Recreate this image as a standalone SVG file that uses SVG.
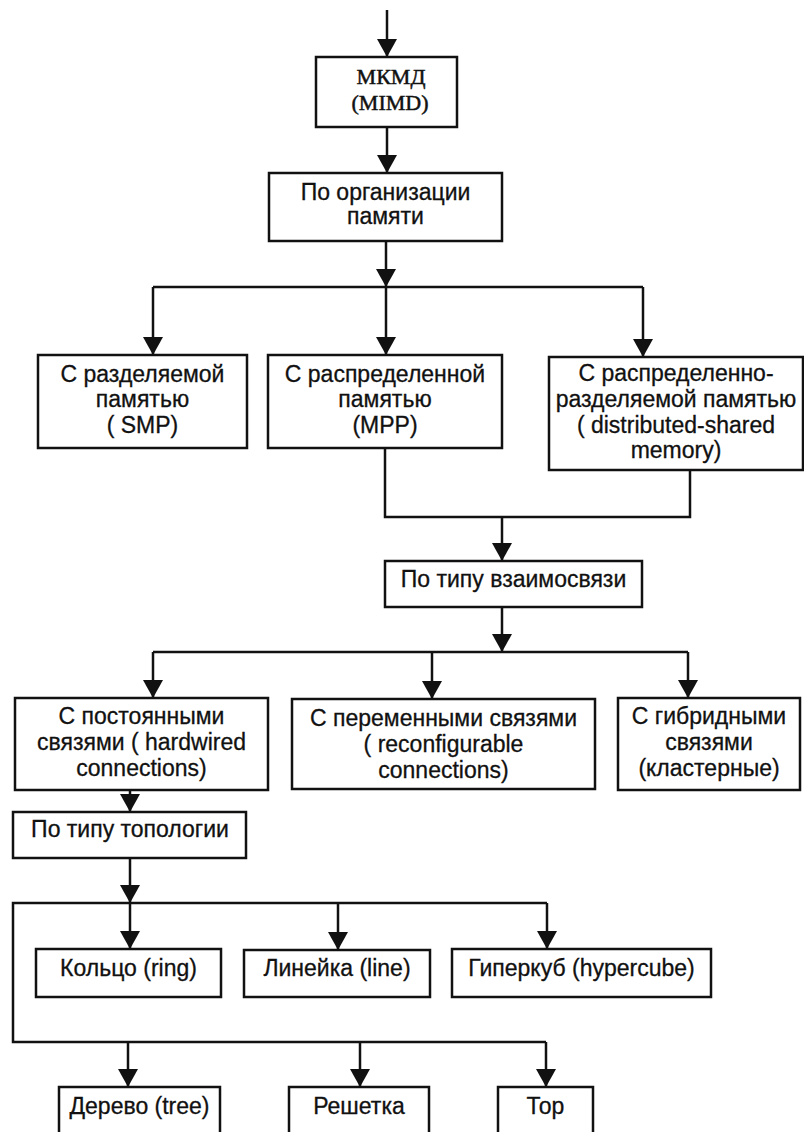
<svg xmlns="http://www.w3.org/2000/svg" width="804" height="1132" viewBox="0 0 804 1132">
<style>
.box{fill:#fff;stroke:#111;stroke-width:2.5}
.t{font-family:"Liberation Sans",Arial,sans-serif;font-size:23px;fill:#111;stroke:#111;stroke-width:0.3;text-anchor:middle}
.s{font-family:"Liberation Serif","Times New Roman",serif;font-size:22px;fill:#111;stroke:#111;stroke-width:0.5;text-anchor:middle}
.c{fill:none;stroke:#111;stroke-width:2.5}
.a{fill:none;stroke:#111;stroke-width:2.5;marker-end:url(#ah)}
</style>
<defs>
<marker id="ah" viewBox="0 0 18 20" markerWidth="18" markerHeight="20" refX="18" refY="10" orient="auto" markerUnits="userSpaceOnUse">
<path d="M0,0 L18,10 L0,20 z" fill="#111"/>
</marker>
</defs>
<rect width="804" height="1132" fill="#fff"/>
<g id="connectors">
<path class="a" d="M387,10 V57"/>
<path class="a" d="M387,127 V173"/>
<path class="a" d="M386,241 V287"/>
<path class="c" d="M153,287 H643"/>
<path class="a" d="M153,287 V355"/>
<path class="a" d="M386,287 V355"/>
<path class="a" d="M643,287 V357"/>
<path class="c" d="M385,448 V517 H690 V470"/>
<path class="a" d="M502,517 V561"/>
<path class="a" d="M502,607 V652"/>
<path class="c" d="M153,652 H688"/>
<path class="a" d="M153,652 V698"/>
<path class="a" d="M432,652 V699"/>
<path class="a" d="M688,652 V698"/>
<path class="a" d="M130,790 V812"/>
<path class="a" d="M130,858 V903"/>
<path class="c" d="M547,903 H13 V1042 H546"/>
<path class="a" d="M130,903 V949"/>
<path class="a" d="M338,903 V950"/>
<path class="a" d="M547,903 V949"/>
<path class="a" d="M128,1042 V1087"/>
<path class="a" d="M360,1042 V1087"/>
<path class="a" d="M546,1042 V1087"/>
</g>
<g id="mimd"><rect class="box" x="316" y="57" width="141" height="70"/><text class="s" x="391" y="84">МКМД</text><text class="s" x="390" y="110">(MIMD)</text></g>
<g id="memory-org"><rect class="box" x="269" y="173" width="233" height="68"/><text class="t" x="385.5" y="200">По организации</text><text class="t" x="385.5" y="224">памяти</text></g>
<g id="smp"><rect class="box" x="38" y="355" width="209" height="93"/><text class="t" x="142.5" y="382">С разделяемой</text><text class="t" x="142.5" y="407">памятью</text><text class="t" x="142.5" y="433">( SMP)</text></g>
<g id="mpp"><rect class="box" x="268" y="355" width="234" height="93"/><text class="t" x="385" y="382">С распределенной</text><text class="t" x="385" y="407">памятью</text><text class="t" x="385" y="433">(MPP)</text></g>
<g id="dsm"><rect class="box" x="549" y="357" width="254" height="113"/><text class="t" x="676" y="381">С распределенно-</text><text class="t" x="676" y="407">разделяемой памятью</text><text class="t" x="676" y="433">( distributed-shared</text><text class="t" x="676" y="458">memory)</text></g>
<g id="interconnect"><rect class="box" x="385" y="561" width="257" height="46"/><text class="t" x="513.5" y="587">По типу взаимосвязи</text></g>
<g id="hardwired"><rect class="box" x="15" y="698" width="253" height="92"/><text class="t" x="141.5" y="724">С постоянными</text><text class="t" x="141.5" y="750">связями ( hardwired</text><text class="t" x="141.5" y="776">connections)</text></g>
<g id="reconfigurable"><rect class="box" x="292" y="699" width="303" height="90"/><text class="t" x="443.5" y="726">С переменными связями</text><text class="t" x="443.5" y="752">( reconfigurable</text><text class="t" x="443.5" y="778">connections)</text></g>
<g id="hybrid"><rect class="box" x="618" y="698" width="182" height="92"/><text class="t" x="709" y="724">С гибридными</text><text class="t" x="709" y="750">связями</text><text class="t" x="709" y="776">(кластерные)</text></g>
<g id="topology"><rect class="box" x="13" y="812" width="233" height="46"/><text class="t" x="130" y="837">По типу топологии</text></g>
<g id="ring"><rect class="box" x="36" y="949" width="185" height="48"/><text class="t" x="128.5" y="976">Кольцо (ring)</text></g>
<g id="line"><rect class="box" x="244" y="950" width="186" height="47"/><text class="t" x="337" y="976">Линейка (line)</text></g>
<g id="hypercube"><rect class="box" x="452" y="949" width="259" height="48"/><text class="t" x="581.5" y="976">Гиперкуб (hypercube)</text></g>
<g id="tree"><rect class="box" x="59" y="1087" width="161" height="60"/><text class="t" x="139.5" y="1114">Дерево (tree)</text></g>
<g id="mesh"><rect class="box" x="289" y="1087" width="140" height="60"/><text class="t" x="359" y="1114">Решетка</text></g>
<g id="torus"><rect class="box" x="498" y="1087" width="95" height="60"/><text class="t" x="545.5" y="1114">Тор</text></g>
</svg>
